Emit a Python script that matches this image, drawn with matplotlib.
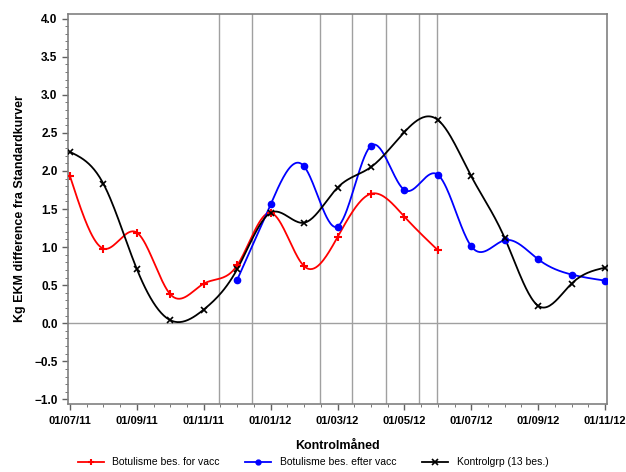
import numpy as np
import matplotlib
matplotlib.use("Agg")
import matplotlib.pyplot as plt
from matplotlib.ticker import MultipleLocator

plt.rcParams['font.family'] = ['Liberation Sans', 'DejaVu Sans']

# month index 0 = 01/07/11
tick_labels = ["01/07/11", "01/09/11", "01/11/11", "01/01/12", "01/03/12",
               "01/05/12", "01/07/12", "01/09/12", "01/11/12"]

red_x = [0, 1, 2, 3, 4, 5, 6, 7, 8, 9, 10, 11]
red_y = [1.93, 0.98, 1.19, 0.38, 0.52, 0.76, 1.45, 0.75, 1.13, 1.70, 1.40, 0.96]

blue_x = [5, 6, 7, 8, 9, 10, 11, 12, 13, 14, 15, 16]
blue_y = [0.57, 1.56, 2.06, 1.27, 2.33, 1.75, 1.95, 1.01, 1.09, 0.84, 0.64, 0.56]

black_x = list(range(17))
black_y = [2.25, 1.83, 0.71, 0.04, 0.18, 0.71, 1.45, 1.32, 1.78, 2.05, 2.51,
           2.67, 1.93, 1.12, 0.23, 0.52, 0.73]

ref_lines = [4.46, 5.44, 7.48, 8.43, 9.45, 10.44, 10.97]


def spline(x, y, n=400):
    # natural cubic spline through the points
    x = np.asarray(x, float)
    y = np.asarray(y, float)
    k = len(x)
    h = np.diff(x)
    A = np.zeros((k, k))
    b = np.zeros(k)
    A[0, 0] = A[-1, -1] = 1
    for i in range(1, k - 1):
        A[i, i - 1] = h[i - 1]
        A[i, i] = 2 * (h[i - 1] + h[i])
        A[i, i + 1] = h[i]
        b[i] = 6 * ((y[i + 1] - y[i]) / h[i] - (y[i] - y[i - 1]) / h[i - 1])
    m = np.linalg.solve(A, b)
    xs = np.linspace(x[0], x[-1], n)
    idx = np.clip(np.searchsorted(x, xs) - 1, 0, k - 2)
    t = xs - x[idx]
    hi = h[idx]
    a = y[idx]
    bb = (y[idx + 1] - y[idx]) / hi - hi * (2 * m[idx] + m[idx + 1]) / 6
    c = m[idx] / 2
    d = (m[idx + 1] - m[idx]) / (6 * hi)
    return xs, a + bb * t + c * t ** 2 + d * t ** 3


fig = plt.figure(figsize=(6.26, 4.72), dpi=100)
ax = fig.add_axes([68 / 626, 1 - 404 / 472, 539 / 626, 390 / 472])

for xv in ref_lines:
    ax.axvline(xv, color='#a0a0a0', lw=1, zorder=1)
ax.axhline(0, color='#a0a0a0', lw=1, zorder=1)

series = [
    (red_x, red_y, 'red', '+', 'Botulisme bes. for vacc', 6, 1.5),
    (blue_x, blue_y, 'blue', 'o', 'Botulisme bes. efter vacc', 4.5, 1),
    (black_x, black_y, 'black', 'x', 'Kontrolgrp (13 bes.)', 5, 1.2),
]
handles = []
for xs, ys, col, mk, lab, ms, mew in series:
    sx, sy = spline(xs, ys)
    ax.plot(sx, sy, color=col, lw=1.3, zorder=3)
    ax.plot(xs, ys, ls='none', marker=mk, color=col, ms=ms, mew=mew, zorder=4)
    h, = ax.plot([], [], color=col, lw=1.3, marker=mk, ms=ms - 1, mew=mew,
                 label=lab)
    handles.append(h)

ax.set_xlim(-0.06, 16.06)
ax.set_ylim(-1.06, 4.06)
ax.set_xticks(range(0, 17, 2))
ax.set_xticklabels(tick_labels)
ax.xaxis.set_minor_locator(MultipleLocator(0.5))
ax.set_yticks(np.arange(-1.0, 4.01, 0.5))
ax.set_yticklabels(["%.1f" % v if v >= 0 else "\u2212%.1f" % abs(v)
                    for v in np.arange(-1.0, 4.01, 0.5)])
ax.yaxis.set_minor_locator(MultipleLocator(0.1))
ax.tick_params(axis='x', which='major', labelsize=8, length=4,
               color='#606060', width=1, pad=5)
ax.tick_params(axis='y', which='major', labelsize=8.5, length=4,
               color='#606060', width=1)
ax.tick_params(axis='both', which='minor', length=2, color='#606060')
for lbl in ax.get_xticklabels() + ax.get_yticklabels():
    lbl.set_fontweight('bold')
for s in ax.spines.values():
    s.set_color('#808080')
    s.set_linewidth(1.2)

ax.set_xlabel("Kontrolmåned", fontsize=9, fontweight='bold', labelpad=10)
ax.set_ylabel("Kg EKM difference fra Standardkurver", fontsize=9,
              fontweight='bold', labelpad=6)

fig.legend(handles=handles, loc='lower center', ncol=3, frameon=False,
           fontsize=7.5, bbox_to_anchor=(0.5, -0.01), handlelength=2.5,
           columnspacing=2.5)

fig.savefig("out.png", dpi=100)
